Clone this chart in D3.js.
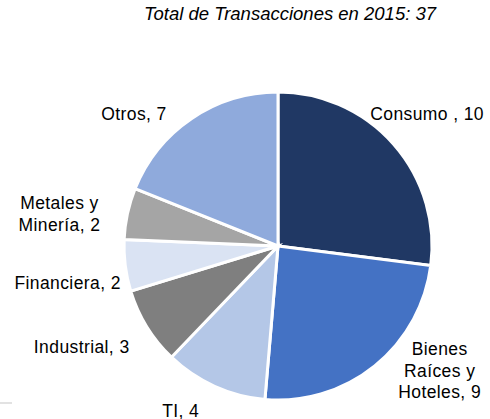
<!DOCTYPE html>
<html>
<head>
<meta charset="utf-8">
<script src="https://cdn.jsdelivr.net/npm/d3@7"></script>
<style>
  body { margin: 0; background: #fff; }
  text { font-family: "Liberation Sans", Arial, sans-serif; fill: #000; }
</style>
</head>
<body>
<div id="chart"></div>
<script>
var categories = ["Consumo ", "Bienes Raíces y Hoteles", "TI", "Industrial", "Financiera", "Metales y Minería", "Otros"];
var values = [10, 9, 4, 3, 2, 2, 7];
var colors = ["#203864", "#4472C4", "#B4C7E7", "#7F7F7F", "#DAE3F3", "#A5A5A5", "#8FAADC"];
// label lines as they wrap in the picture
var labelLines = [["Consumo , 10"], ["Bienes", "Raíces y", "Hoteles, 9"], ["TI, 4"], ["Industrial, 3"], ["Financiera, 2"], ["Metales y", "Minería, 2"], ["Otros, 7"]];
var title = "Total de Transacciones en 2015: 37";

var svg = d3.select("#chart").append("svg")
    .attr("width", 490)
    .attr("height", 419);

var cx = 278, cy = 246, radius = 154;

// nudges from the centroid at r=200, to sit labels where the picture has them
var nudge = [[-1, 0], [36, -31], [-15, -17], [-26, -4], [-12, 11], [-23, 10], [-32, 34]];

svg.append("text")
    .attr("x", 290)
    .attr("y", 20)
    .attr("text-anchor", "middle")
    .style("font-size", "18.5px")
    .style("font-style", "italic")
    .text(title);

// faint frame remnant bottom-left
svg.append("line")
    .attr("x1", 0).attr("x2", 12)
    .attr("y1", 403).attr("y2", 403)
    .attr("stroke", "#d9d9d9")
    .attr("stroke-width", 1.5);

var pie = d3.pie().sort(null).value(function(d){ return d; });
var arcs = pie(values);

var arc = d3.arc().innerRadius(0).outerRadius(radius);
var labelArc = d3.arc().innerRadius(200).outerRadius(200);

var g = svg.append("g").attr("transform", "translate(" + cx + "," + cy + ")");

g.selectAll("path.slice")
    .data(arcs)
    .enter().append("path")
    .attr("class", "slice")
    .attr("d", arc)
    .attr("fill", function(d, i){ return colors[i]; })
    .attr("stroke", "#fff")
    .attr("stroke-width", 3)
    .attr("stroke-linejoin", "miter");

var lineH = 21.5;
g.selectAll("text.lbl")
    .data(arcs)
    .enter().append("text")
    .attr("class", "lbl")
    .attr("text-anchor", "middle")
    .style("font-size", "17.5px")
    .style("letter-spacing", "0.4px")
    .each(function(d, i){
      var c = labelArc.centroid(d);
      var x = c[0] + nudge[i][0];
      var y = c[1] + nudge[i][1];
      var lines = labelLines[i];
      var t = d3.select(this);
      lines.forEach(function(s, k){
        t.append("tspan")
          .attr("x", x)
          .attr("y", y + (k - (lines.length - 1) / 2) * lineH)
          .attr("dy", "0.35em")
          .text(s);
      });
    });
</script>
</body>
</html>
